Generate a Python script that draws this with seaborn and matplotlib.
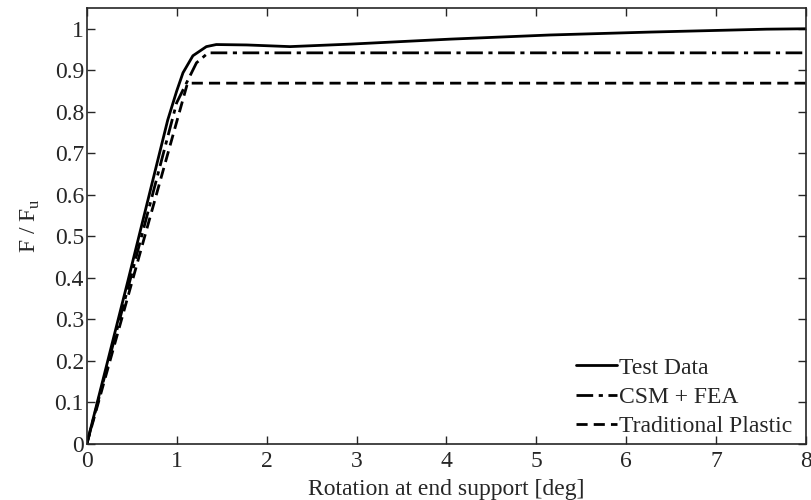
import seaborn as sns
import matplotlib.pyplot as plt
import pandas as pd

# 读数 (从图上估计)
test_x = [0, 0.46, 0.9, 1.0, 1.07, 1.18, 1.33, 1.44, 1.78, 2.26, 2.93, 4.04, 5.15, 6.26, 7.56, 8.0]
test_y = [0, 0.395, 0.78, 0.85, 0.894, 0.935, 0.957, 0.962, 0.961, 0.957, 0.963, 0.975, 0.985, 0.992, 0.999, 1.0]

csm_x = [0, 0.5, 1.0, 1.11, 1.22, 1.35, 8.0]
csm_y = [0, 0.41, 0.822, 0.87, 0.918, 0.942, 0.942]

plastic_x = [0, 1.12, 8.0]
plastic_y = [0, 0.869, 0.869]

labels = ['Test Data', 'CSM + FEA', 'Traditional Plastic']

sns.set_style("ticks")
plt.rcParams['font.family'] = ['Liberation Serif', 'DejaVu Serif']
plt.rcParams['mathtext.fontset'] = 'custom'
plt.rcParams['mathtext.rm'] = 'Liberation Serif'
plt.rcParams['xtick.direction'] = 'in'
plt.rcParams['ytick.direction'] = 'in'

df = pd.concat([
    pd.DataFrame({'x': test_x, 'y': test_y, 'series': labels[0]}),
    pd.DataFrame({'x': csm_x, 'y': csm_y, 'series': labels[1]}),
    pd.DataFrame({'x': plastic_x, 'y': plastic_y, 'series': labels[2]}),
])

fig, ax = plt.subplots(figsize=(8.11, 5.0), dpi=100)
styles = {labels[0]: '-', labels[1]: (0, (6, 2, 1.5, 2)), labels[2]: (0, (4, 2.2))}
for name in labels:
    d = df[df['series'] == name]
    sns.lineplot(data=d, x='x', y='y', ax=ax, color='black', linewidth=2,
                 linestyle=styles[name], label=name, sort=False)

ax.set_xlim(0, 8)
ax.set_ylim(0, 1.05)
ax.set_xticks(range(0, 9))
ax.set_yticks([i / 10 for i in range(11)])
ax.set_yticklabels(['0'] + [f'0.{i}' for i in range(1, 10)] + ['1'])
ax.tick_params(top=True, right=True, labelsize=17, length=6, width=1, pad=2)
ax.tick_params(axis='x', pad=5)
for s in ax.spines.values():
    s.set_linewidth(1.2)
ax.set_xlabel('Rotation at end support [deg]', fontsize=17, labelpad=5)
ax.set_ylabel(r'F / F$_\mathregular{u}$', fontsize=17, labelpad=9)
ax.legend(loc='lower right', bbox_to_anchor=(0.99, 0.0), frameon=False, fontsize=17,
          handlelength=1.75, handletextpad=0.05, borderaxespad=0.0, borderpad=0.3,
          labelspacing=0.32)

plt.subplots_adjust(left=0.107, right=0.994, top=0.984, bottom=0.112)
plt.savefig('out.png', dpi=100)
